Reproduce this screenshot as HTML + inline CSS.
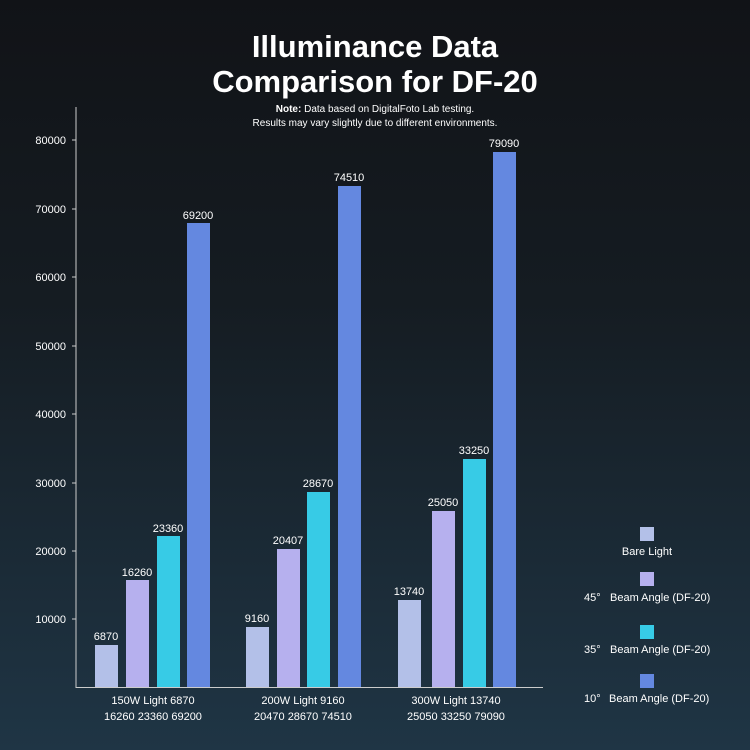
<!DOCTYPE html><html><head><style>
body{margin:0;width:750px;height:750px;overflow:hidden;background:linear-gradient(180deg,#111317 0%,#151c22 40%,#1f3545 100%);font-family:"Liberation Sans",sans-serif;color:#fff}
</style></head><body>
<svg width="750" height="750" style="position:absolute;left:0;top:0" font-family="Liberation Sans, sans-serif" fill="#fff">
<text x="375" y="57" font-size="31" font-weight="bold" text-anchor="middle">Illuminance Data</text>
<text x="375" y="92" font-size="31" font-weight="bold" text-anchor="middle">Comparison for DF-20</text>
<text x="375" y="112" font-size="10" text-anchor="middle"><tspan font-weight="bold">Note:</tspan> Data based on DigitalFoto Lab testing.</text>
<text x="375" y="126" font-size="10" text-anchor="middle">Results may vary slightly due to different environments.</text>
<g stroke="#ccc" stroke-width="1"><line x1="76" y1="107" x2="76" y2="688"/><line x1="76" y1="687.5" x2="543" y2="687.5"/>
<line x1="72" y1="140" x2="76" y2="140"/><line x1="72" y1="209" x2="76" y2="209"/><line x1="72" y1="277" x2="76" y2="277"/><line x1="72" y1="346" x2="76" y2="346"/><line x1="72" y1="414" x2="76" y2="414"/><line x1="72" y1="483" x2="76" y2="483"/><line x1="72" y1="551" x2="76" y2="551"/><line x1="72" y1="619" x2="76" y2="619"/></g>
<g font-size="11" text-anchor="end"><text x="66" y="144">80000</text><text x="66" y="213">70000</text><text x="66" y="281">60000</text><text x="66" y="350">50000</text><text x="66" y="418">40000</text><text x="66" y="487">30000</text><text x="66" y="555">20000</text><text x="66" y="623">10000</text></g>
<g>
<rect x="95" y="645" width="23" height="42" fill="#b3c0e8"/><rect x="126" y="580" width="23" height="107" fill="#b6b0ee"/><rect x="157" y="536" width="23" height="151" fill="#37cbe6"/><rect x="187" y="223" width="23" height="464" fill="#6488e0"/>
<rect x="246" y="627" width="23" height="60" fill="#b3c0e8"/><rect x="277" y="549" width="23" height="138" fill="#b6b0ee"/><rect x="307" y="492" width="23" height="195" fill="#37cbe6"/><rect x="338" y="186" width="23" height="501" fill="#6488e0"/>
<rect x="398" y="600" width="23" height="87" fill="#b3c0e8"/><rect x="432" y="511" width="23" height="176" fill="#b6b0ee"/><rect x="463" y="459" width="23" height="228" fill="#37cbe6"/><rect x="493" y="152" width="23" height="535" fill="#6488e0"/>
</g>
<g font-size="11" text-anchor="middle">
<text x="106" y="640">6870</text><text x="137" y="576">16260</text><text x="168" y="532">23360</text><text x="198" y="219">69200</text>
<text x="257" y="622">9160</text><text x="288" y="544">20407</text><text x="318" y="487">28670</text><text x="349" y="181">74510</text>
<text x="409" y="595">13740</text><text x="443" y="506">25050</text><text x="474" y="454">33250</text><text x="504" y="147">79090</text>
<text x="153" y="704">150W Light 6870</text><text x="153" y="720">16260 23360 69200</text>
<text x="303" y="704">200W Light 9160</text><text x="303" y="720">20470 28670 74510</text>
<text x="456" y="704">300W Light 13740</text><text x="456" y="720">25050 33250 79090</text>
</g>
<rect x="640" y="527" width="14" height="14" fill="#b3c0e8"/><rect x="640" y="572" width="14" height="14" fill="#b6b0ee"/><rect x="640" y="625" width="14" height="14" fill="#37cbe6"/><rect x="640" y="674" width="14" height="14" fill="#6488e0"/>
<g font-size="11"><text x="647" y="555" text-anchor="middle">Bare Light</text>
<text x="584" y="601">45°</text><text x="610" y="601">Beam Angle (DF-20)</text>
<text x="584" y="653">35°</text><text x="610" y="653">Beam Angle (DF-20)</text>
<text x="584" y="702">10°</text><text x="609" y="702">Beam Angle (DF-20)</text></g>
</svg></body></html>
